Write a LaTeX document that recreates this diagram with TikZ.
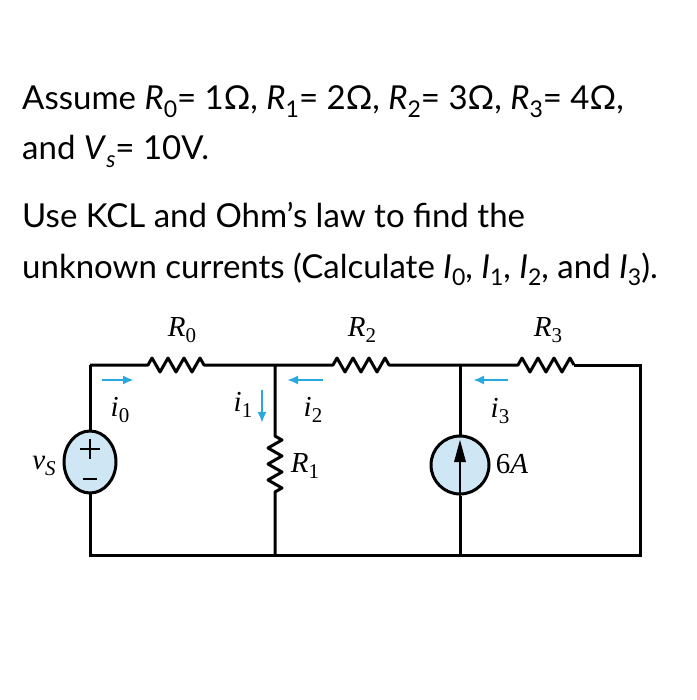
\documentclass[tikz,border=0pt]{standalone}
\usepackage{fontspec}
\setmainfont{Lato}
\newfontfamily\ser{Liberation Serif}
\usetikzlibrary{arrows.meta,shapes.geometric}
\definecolor{cy}{HTML}{29A8E0}
\definecolor{lb}{HTML}{CFE6F5}
\newcommand{\sbx}[1]{\raisebox{-0.22em}{\fontsize{23}{23}\selectfont #1}}
\newcommand{\lsb}[1]{\raisebox{-0.22em}{\fontsize{21}{21}\selectfont\upshape #1}}
\begin{document}
\begin{tikzpicture}[x=1pt,y=-1pt,
 wire/.style={line width=3pt,black},
 cur/.style={cy,line width=2.4pt,-{Latex[length=11pt,width=9pt]}},
 lab/.style={font=\ser\itshape\fontsize{29}{29}\selectfont,inner sep=0pt},
 txt/.style={anchor=base west,inner sep=0pt,font=\fontsize{33}{33}\selectfont}]
\useasboundingbox (0,0) rectangle (696,700);
\node[txt] (t1) at (22,110) {Assume \textit{R}\sbx{0}= 1Ω, \textit{R}\sbx{1}= 2Ω, \textit{R}\sbx{2}= 3Ω, \textit{R}\sbx{3}= 4Ω,};
\node[txt] (t2) at (22,160) {and \textit{V}\sbx{\textit{s}}= 10V.};
\node[txt] (t3) at (22,228) {Use KCL and Ohm’s law to find the};
\node[txt] (t4) at (22,278) {unknown currents (Calculate \textit{I}\sbx{0}, \textit{I}\sbx{1}, \textit{I}\sbx{2}, and \textit{I}\sbx{3}).};
\coordinate (a) at (90,365); \coordinate (b) at (275,365); \coordinate (c) at (460,365); \coordinate (d) at (640,365);
\coordinate (a2) at (90,555); \coordinate (b2) at (275,555); \coordinate (c2) at (460,555); \coordinate (d2) at (640,555);
\coordinate (vst) at (90,431); \coordinate (vsb) at (90,493);
\draw[wire,fill=lb] (90,462) ellipse [x radius=26pt, y radius=31pt];
\node[circle,draw,wire,fill=lb,minimum size=58pt] (cs) at (460,465) {};
\draw[wire] (a)--(vst) (vsb)--(a2)--(d2)--(d)--(574,365);
\draw[wire,line join=round] (a)--(148,365)--(152,358)--(160,372)--(168,358)--(176,372)--(184,358)--(192,372)--(200,358)--(204,365)--(b)
  --(333,365)--(337,358)--(345,372)--(353,358)--(361,372)--(369,358)--(377,372)--(385,358)--(389,365)--(c)
  --(518,365)--(522,358)--(530,372)--(538,358)--(546,372)--(554,358)--(562,372)--(570,358)--(574,365);
\draw[wire,line join=round] (b)--(275,436)--(282,440)--(268,448)--(282,456)--(268,464)--(282,472)--(268,480)--(282,488)--(275,492)--(b2);
\draw[wire] (c)--(cs.north) (cs.south)--(c2);
\draw[line width=2pt] (cs.south) -- (460,455);
\fill (460,440)--(454,462)--(466,462)--cycle;
\draw[line width=2.2pt] (90,439)--(90,459) (80,449)--(100,449);
\draw[line width=2.2pt] (83,479)--(97,479);
\node[lab] (lr0) at (182,330) {R\lsb{0}};
\node[lab] (lr2) at (362,330) {R\lsb{2}};
\node[lab] (lr3) at (548,330) {R\lsb{3}};
\node[lab] (lr1) at (305,466) {R\lsb{1}};
\node[lab] (l6) at (512,464) {\upshape 6\itshape A};
\node[lab] (lvs) at (44,466) {v\lsb{\itshape S}};
\node[lab] (li0) at (120,410) {i\lsb{0}};
\node[lab] (li1) at (243,405) {i\lsb{1}};
\node[lab] (li2) at (313,410) {i\lsb{2}};
\node[lab] (li3) at (500,411) {i\lsb{3}};
\coordinate (p0) at (102,380); \coordinate (q0) at (134,380);
\draw[cur] (p0)--(q0);
\coordinate (p1) at (262,390); \coordinate (q1) at (262,423);
\draw[cur] (p1)--(q1);
\coordinate (p2) at (323,380); \coordinate (q2) at (287,380);
\draw[cur] (p2)--(q2);
\coordinate (p3) at (508,380); \coordinate (q3) at (473,380);
\draw[cur] (p3)--(q3);
\end{tikzpicture}
\end{document}
